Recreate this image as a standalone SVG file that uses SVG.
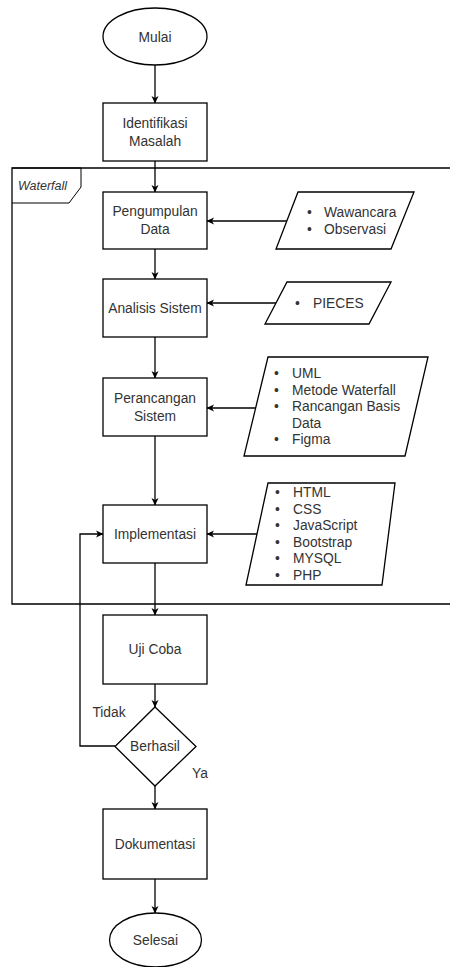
<svg xmlns="http://www.w3.org/2000/svg" width="450" height="967" viewBox="0 0 450 967">
<defs>
<marker id="ah" markerWidth="8" markerHeight="8" refX="7" refY="4" orient="auto" markerUnits="userSpaceOnUse">
<path d="M0,0.5 L7.5,4 L0,7.5 L2,4 Z" fill="#000"/>
</marker>
<style>
.s{fill:#fff;stroke:#000;stroke-width:1.3}
.t{font-family:"Liberation Sans",Arial,sans-serif;font-size:13.8px;fill:#333;text-anchor:middle}
.l{font-family:"Liberation Sans",Arial,sans-serif;font-size:13.8px;fill:#333}
.c{fill:none;stroke:#000;stroke-width:1.3;marker-end:url(#ah)}
</style>
</defs>
<rect width="450" height="967" fill="#fff"/>
<g id="waterfall">
<path d="M460,168 L12,168 L12,604 L460,604" fill="none" stroke="#000" stroke-width="1.3"/>
<path d="M12,168 L81,168 L81,187 L69,203 L12,203" fill="none" stroke="#000" stroke-width="1"/>
<text x="18" y="190" style="font-family:'Liberation Sans',Arial,sans-serif;font-size:12.5px;font-style:italic;fill:#333">Waterfall</text>
</g>
<g id="connectors">
<line class="c" x1="155" y1="65" x2="155" y2="103"/>
<line class="c" x1="155" y1="161" x2="155" y2="192"/>
<line class="c" x1="155" y1="249" x2="155" y2="279"/>
<line class="c" x1="155" y1="337" x2="155" y2="378"/>
<line class="c" x1="155" y1="436" x2="155" y2="505"/>
<line class="c" x1="155" y1="563" x2="155" y2="615"/>
<line class="c" x1="155" y1="684" x2="155" y2="707"/>
<line class="c" x1="155" y1="786" x2="155" y2="809"/>
<line class="c" x1="155" y1="879" x2="155" y2="913"/>
<line class="c" x1="287" y1="221" x2="207" y2="221"/>
<line class="c" x1="276" y1="303" x2="207" y2="303"/>
<line class="c" x1="257" y1="408" x2="207" y2="408"/>
<line class="c" x1="257" y1="534" x2="207" y2="534"/>
<path class="c" d="M115,746 L80,746 L80,534 L103,534"/>
<text x="109" y="717" class="t">Tidak</text>
<text x="200" y="778" class="t">Ya</text>
</g>
<g id="mulai">
<ellipse class="s" cx="155" cy="36.5" rx="52" ry="28.5"/>
<text x="155" y="41.5" class="t">Mulai</text>
</g>
<g id="identifikasi">
<rect class="s" x="103" y="103" width="104" height="58"/>
<text x="155" y="128" class="t">Identifikasi</text>
<text x="155" y="146" class="t">Masalah</text>
</g>
<g id="pengumpulan">
<rect class="s" x="103" y="192" width="104" height="57"/>
<text x="155" y="216" class="t">Pengumpulan</text>
<text x="155" y="234" class="t">Data</text>
</g>
<g id="analisis">
<rect class="s" x="103" y="279" width="104" height="58"/>
<text x="155" y="313" class="t">Analisis Sistem</text>
</g>
<g id="perancangan">
<rect class="s" x="103" y="378" width="104" height="58"/>
<text x="155" y="403" class="t">Perancangan</text>
<text x="155" y="421" class="t">Sistem</text>
</g>
<g id="implementasi">
<rect class="s" x="103" y="505" width="104" height="58"/>
<text x="155" y="539" class="t">Implementasi</text>
</g>
<g id="ujicoba">
<rect class="s" x="103" y="615" width="104" height="69"/>
<text x="155" y="654" class="t">Uji Coba</text>
</g>
<g id="berhasil">
<path class="s" d="M155,707 L196,746.5 L155,786 L115,746.5 Z"/>
<text x="155" y="751" class="t">Berhasil</text>
</g>
<g id="dokumentasi">
<rect class="s" x="103" y="809" width="104" height="70"/>
<text x="155" y="849" class="t">Dokumentasi</text>
</g>
<g id="selesai">
<ellipse class="s" cx="155.5" cy="940" rx="46" ry="27"/>
<text x="155.5" y="945" class="t">Selesai</text>
</g>
<g id="data-input">
<path class="s" d="M298,192 L414,192 L391,249 L276,249 Z"/>
<text x="307" y="217" class="l">•</text><text x="324" y="217" class="l">Wawancara</text>
<text x="307" y="234" class="l">•</text><text x="324" y="234" class="l">Observasi</text>
</g>
<g id="pieces">
<path class="s" d="M287,282 L391,282 L369,324 L265,324 Z"/>
<text x="295" y="308" class="l">•</text><text x="313" y="308" class="l">PIECES</text>
</g>
<g id="perancangan-input">
<path class="s" d="M268,357 L428,357 L405,456 L244,456 Z"/>
<text x="274" y="378" class="l">•</text><text x="292" y="378" class="l">UML</text>
<text x="274" y="395" class="l">•</text><text x="292" y="395" class="l">Metode Waterfall</text>
<text x="274" y="411" class="l">•</text><text x="292" y="411" class="l">Rancangan Basis</text>
<text x="292" y="428" class="l">Data</text>
<text x="274" y="444" class="l">•</text><text x="292" y="444" class="l">Figma</text>
</g>
<g id="implementasi-input">
<path class="s" d="M268,483 L395,483 L382,585 L246,585 Z"/>
<text x="275" y="497" class="l">•</text><text x="293" y="497" class="l">HTML</text>
<text x="275" y="514" class="l">•</text><text x="293" y="514" class="l">CSS</text>
<text x="275" y="530" class="l">•</text><text x="293" y="530" class="l">JavaScript</text>
<text x="275" y="547" class="l">•</text><text x="293" y="547" class="l">Bootstrap</text>
<text x="275" y="563" class="l">•</text><text x="293" y="563" class="l">MYSQL</text>
<text x="275" y="580" class="l">•</text><text x="293" y="580" class="l">PHP</text>
</g>
</svg>
